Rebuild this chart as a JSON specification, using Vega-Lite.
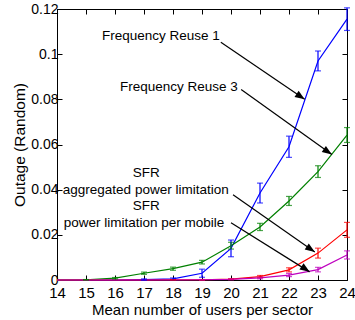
{
  "$schema": "https://vega.github.io/schema/vega-lite/v6.json",
  "width": 290,
  "height": 271,
  "autosize": "none",
  "padding": {"left": 57, "top": 9, "right": 8, "bottom": 40},
  "background": "white",
  "config": {
    "view": {"stroke": "black", "strokeWidth": 1},
    "font": "Liberation Sans",
    "axis": {"grid": false, "labelFlush": false, "labelOverlap": false, "domainColor": "black", "tickColor": "black", "labelColor": "black", "titleColor": "black", "labelFont": "Liberation Sans", "titleFont": "Liberation Sans", "labelFontSize": 15, "titleFontSize": 15, "titleFontWeight": "normal", "tickSize": -5, "labelPadding": 4}
  },
  "datasets": {
    "series": [
      {"s": "FR1", "x": 14, "y": 0, "e": 0},
      {"s": "FR1", "x": 15, "y": 0, "e": 0},
      {"s": "FR1", "x": 16, "y": 0, "e": 0},
      {"s": "FR1", "x": 17, "y": 0.0002, "e": 0.0003},
      {"s": "FR1", "x": 18, "y": 0.0005, "e": 0.0004},
      {"s": "FR1", "x": 19, "y": 0.003, "e": 0.0018},
      {"s": "FR1", "x": 20, "y": 0.014, "e": 0.0037},
      {"s": "FR1", "x": 21, "y": 0.0385, "e": 0.0044},
      {"s": "FR1", "x": 22, "y": 0.059, "e": 0.0047},
      {"s": "FR1", "x": 23, "y": 0.097, "e": 0.0044},
      {"s": "FR1", "x": 24, "y": 0.1155, "e": 0.005},
      {"s": "FR3", "x": 14, "y": 0, "e": 0},
      {"s": "FR3", "x": 15, "y": 0.0001, "e": 0.0001},
      {"s": "FR3", "x": 16, "y": 0.0008, "e": 0.0003},
      {"s": "FR3", "x": 17, "y": 0.003, "e": 0.0005},
      {"s": "FR3", "x": 18, "y": 0.005, "e": 0.0007},
      {"s": "FR3", "x": 19, "y": 0.0079, "e": 0.0008},
      {"s": "FR3", "x": 20, "y": 0.0152, "e": 0.0015},
      {"s": "FR3", "x": 21, "y": 0.0235, "e": 0.0016},
      {"s": "FR3", "x": 22, "y": 0.035, "e": 0.002},
      {"s": "FR3", "x": 23, "y": 0.048, "e": 0.0026},
      {"s": "FR3", "x": 24, "y": 0.0642, "e": 0.0033},
      {"s": "SFRagg", "x": 14, "y": 0, "e": 0},
      {"s": "SFRagg", "x": 15, "y": 0, "e": 0},
      {"s": "SFRagg", "x": 16, "y": 0, "e": 0},
      {"s": "SFRagg", "x": 17, "y": 0, "e": 0},
      {"s": "SFRagg", "x": 18, "y": 0.0001, "e": 0.0001},
      {"s": "SFRagg", "x": 19, "y": 0.0001, "e": 0.0001},
      {"s": "SFRagg", "x": 20, "y": 0.0004, "e": 0.0002},
      {"s": "SFRagg", "x": 21, "y": 0.0015, "e": 0.0005},
      {"s": "SFRagg", "x": 22, "y": 0.0045, "e": 0.0009},
      {"s": "SFRagg", "x": 23, "y": 0.0119, "e": 0.0022},
      {"s": "SFRagg", "x": 24, "y": 0.0222, "e": 0.0033},
      {"s": "SFRmob", "x": 14, "y": 0, "e": 0},
      {"s": "SFRmob", "x": 15, "y": 0, "e": 0},
      {"s": "SFRmob", "x": 16, "y": 0, "e": 0},
      {"s": "SFRmob", "x": 17, "y": 0, "e": 0},
      {"s": "SFRmob", "x": 18, "y": 0, "e": 0},
      {"s": "SFRmob", "x": 19, "y": 0.0001, "e": 0.0001},
      {"s": "SFRmob", "x": 20, "y": 0.0003, "e": 0.0002},
      {"s": "SFRmob", "x": 21, "y": 0.0009, "e": 0.0004},
      {"s": "SFRmob", "x": 22, "y": 0.0022, "e": 0.0007},
      {"s": "SFRmob", "x": 23, "y": 0.0046, "e": 0.001},
      {"s": "SFRmob", "x": 24, "y": 0.0111, "e": 0.0018}
    ],
    "arrows": [
      {"x": 19.65, "y": 0.1053, "x2": 22.54, "y2": 0.08},
      {"x": 20.35, "y": 0.0844, "x2": 23.48, "y2": 0.0556},
      {"x": 20.07, "y": 0.0378, "x2": 22.89, "y2": 0.0124},
      {"x": 20.0, "y": 0.0253, "x2": 22.71, "y2": 0.0036}
    ],
    "labels": [
      {"x": 17.58, "y": 0.108, "t": "Frequency Reuse 1"},
      {"x": 18.2, "y": 0.0853, "t": "Frequency Reuse 3"},
      {"x": 17.08, "y": 0.0475, "t": "SFR"},
      {"x": 17.06, "y": 0.04, "t": "aggregated power limitation"},
      {"x": 17.08, "y": 0.0326, "t": "SFR"},
      {"x": 17.0, "y": 0.0252, "t": "power limitation per  mobile"}
    ]
  },
  "resolve": {"axis": {"x": "independent", "y": "independent"}},
  "layer": [
    {
      "data": {"name": "series"},
      "mark": {"type": "line", "strokeWidth": 1.2},
      "encoding": {
        "x": {"field": "x", "type": "quantitative", "scale": {"domain": [14, 24], "nice": false, "zero": false}, "axis": {"orient": "bottom", "values": [14, 15, 16, 17, 18, 19, 20, 21, 22, 23, 24], "title": "Mean number of users per sector", "titlePadding": 2, "labelPadding": 10}},
        "y": {"field": "y", "type": "quantitative", "scale": {"domain": [0, 0.12], "nice": false}, "axis": {"orient": "left", "values": [0, 0.02, 0.04, 0.06, 0.08, 0.1, 0.12], "format": ".2~f", "labelFontSize": 14, "title": "Outage (Random)", "titleFontSize": 15.5, "titlePadding": 3}},
        "color": {"field": "s", "type": "nominal", "scale": {"domain": ["FR1", "FR3", "SFRagg", "SFRmob"], "range": ["#0000ff", "#008000", "#ff0000", "#bf00bf"]}, "legend": null}
      }
    },
    {
      "data": {"name": "series"},
      "transform": [{"filter": "datum.e > 0"}],
      "mark": {"type": "errorbar", "ticks": {"size": 6}, "thickness": 1.2},
      "encoding": {
        "x": {"field": "x", "type": "quantitative", "axis": {"orient": "top", "values": [14, 15, 16, 17, 18, 19, 20, 21, 22, 23, 24], "labels": false, "title": null, "domain": false}},
        "y": {"field": "y", "type": "quantitative", "axis": {"orient": "right", "values": [0, 0.02, 0.04, 0.06, 0.08, 0.1, 0.12], "labels": false, "title": null, "domain": false}},
        "yError": {"field": "e"},
        "color": {"field": "s", "type": "nominal", "legend": null}
      }
    },
    {
      "data": {"name": "arrows"},
      "mark": {"type": "rule", "color": "black", "strokeWidth": 1.2},
      "encoding": {
        "x": {"field": "x", "type": "quantitative", "axis": null},
        "y": {"field": "y", "type": "quantitative", "axis": null},
        "x2": {"field": "x2"},
        "y2": {"field": "y2"}
      }
    },
    {
      "data": {"name": "arrows"},
      "mark": {"type": "point", "shape": "M0,0L-0.38,1L0.38,1Z", "filled": true, "color": "black", "opacity": 1, "size": 380, "angle": 124},
      "encoding": {
        "x": {"field": "x2", "type": "quantitative", "axis": null},
        "y": {"field": "y2", "type": "quantitative", "axis": null}
      }
    },
    {
      "data": {"name": "labels"},
      "mark": {"type": "text", "font": "Liberation Sans", "fontSize": 13.5, "color": "black", "align": "center", "baseline": "middle"},
      "encoding": {
        "x": {"field": "x", "type": "quantitative", "axis": null},
        "y": {"field": "y", "type": "quantitative", "axis": null},
        "text": {"field": "t"}
      }
    }
  ]
}
